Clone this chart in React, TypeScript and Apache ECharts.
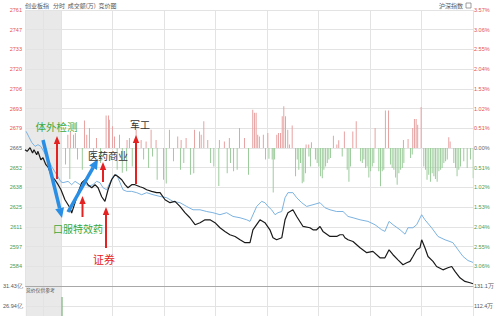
import React, { useEffect, useRef } from "react";
import * as echarts from "echarts";

// previous close of the index
const PREV_CLOSE = 2665.4;

// tick labels (top to bottom)
const priceTickLabels = ["2761", "2747", "2733", "2720", "2706", "2693", "2679", "2665", "2652", "2638", "2625", "2611", "2597", "2584", ""];
const pctTickLabels = ["3.57%", "3.06%", "2.55%", "2.04%", "1.53%", "1.02%", "0.51%", "0.00%", "0.51%", "1.02%", "1.53%", "2.04%", "2.55%", "3.06%", ""];
const volLeftLabels = ["31.43亿", "26.94亿", ""];
const volRightLabels = ["131.1万", "112.4万", ""];

// auction (9:15-9:25) [minute, price]
const auctionIndex = [[0, 2664.2], [0.6, 2663.1], [1.4, 2665.6], [2.1, 2661.9], [2.5, 2664.2], [3.25, 2660.8], [3.6, 2663.1], [4.4, 2657.3], [5, 2658.7], [5.8, 2653.9], [6.5, 2651.8], [7.4, 2645.8], [8.3, 2643.5], [9.2, 2640.1], [10, 2636.6]];
const auctionRef = [[0.3, 2676.9], [1.2, 2672.5], [1.9, 2669.1], [2.8, 2666.5], [3.6, 2667.7], [4.4, 2666.5], [6, 2659.6], [7.4, 2652.7], [8.8, 2647.0], [10, 2642.1]];

// trading session [minute, price]
const indexLine = [[0, 2636.6], [2.3, 2629.7], [5.2, 2624.2], [6.2, 2620.6], [8.2, 2627.7], [9.9, 2634.6], [12.1, 2641.5], [14, 2643.5], [15.7, 2640.1], [17.9, 2638.0], [19.8, 2640.1], [21.6, 2638.0], [23.7, 2631.8], [25.6, 2628.6], [27.4, 2636.6], [29.5, 2643.5], [31.5, 2647.0], [33.2, 2645.8], [35.4, 2643.5], [37.3, 2640.1], [39, 2638.0], [41.2, 2640.1], [43.1, 2640.1], [46, 2638.7], [47.8, 2638.0], [49.9, 2636.6], [52.8, 2635.5], [55.7, 2634.6], [57.7, 2634.6], [60.6, 2629.7], [63.5, 2627.7], [66.4, 2628.6], [69.3, 2625.1], [72.2, 2620.8], [75.1, 2617.3], [78.1, 2612.5], [81, 2613.9], [83.9, 2615.9], [86.8, 2615.9], [89.7, 2613.9], [92.6, 2610.4], [95.5, 2607.9], [98.4, 2605.6], [101.4, 2604.4], [104.3, 2602.1], [107.2, 2600.1], [110.1, 2600.1], [111.8, 2609.0], [115.9, 2615.9], [118.8, 2613.9], [121.7, 2609.0], [123.5, 2603.5], [125.6, 2602.1], [128.6, 2603.5], [130.5, 2615.9], [132.2, 2620.8], [135.1, 2622.8], [137.3, 2618.2], [141, 2611.3], [145, 2610.4], [146.8, 2609.0], [148.9, 2609.0], [150.9, 2611.3], [152.6, 2607.9], [156.7, 2604.4], [160.6, 2604.4], [162.5, 2605.6], [164.3, 2605.6], [165.4, 2603.5], [167.2, 2602.1], [170.1, 2600.9], [174.2, 2596.6], [178.1, 2593.2], [181.7, 2594.1], [185.8, 2589.7], [188.7, 2589.7], [191.1, 2595.2], [193.4, 2591.8], [196.3, 2588.3], [199.2, 2584.9], [201.4, 2586.3], [203.3, 2587.2], [205, 2590.6], [207.2, 2595.2], [209.1, 2596.6], [210.1, 2602.1], [212, 2596.6], [213.8, 2590.6], [216.7, 2587.2], [218.8, 2583.7], [222.5, 2581.4], [225.4, 2582.8], [227.6, 2583.7], [229.5, 2580.3], [232.4, 2575.9], [235.3, 2573.4], [238.3, 2572.5], [240, 2571.8]];

const refLine = [[0, 2642.1], [1.2, 2641.5], [4.1, 2642.4], [6.2, 2640.1], [8.2, 2642.4], [11.1, 2640.1], [12.8, 2642.4], [15.7, 2638.9], [18.6, 2640.1], [20.8, 2642.4], [22.7, 2641.5], [24.5, 2638.0], [26.6, 2636.6], [28.5, 2641.5], [30.3, 2645.8], [32.4, 2647.0], [34.4, 2641.5], [36.1, 2636.6], [38.3, 2635.5], [41.2, 2635.5], [44.1, 2634.6], [47, 2633.2], [49.9, 2634.6], [53.6, 2633.2], [57.7, 2632.0], [61.6, 2631.1], [65.2, 2628.6], [69.3, 2627.7], [73.2, 2625.1], [76.9, 2622.8], [81, 2622.8], [84.9, 2621.6], [88.5, 2620.8], [92.6, 2619.4], [96.5, 2620.8], [100.2, 2618.2], [104.3, 2617.3], [108.2, 2615.9], [110.1, 2614.8], [114, 2625.1], [116.9, 2628.6], [118.8, 2627.7], [120.6, 2625.1], [122.7, 2622.8], [124.7, 2619.4], [126.4, 2620.8], [128.6, 2621.6], [130.5, 2631.1], [132.2, 2634.6], [135.1, 2634.6], [137.3, 2631.1], [140.2, 2627.7], [143.1, 2625.1], [146.8, 2626.3], [150.9, 2627.7], [153.8, 2624.2], [156.7, 2622.8], [160.6, 2621.6], [164.3, 2621.6], [167.2, 2618.2], [170.1, 2617.3], [174.2, 2615.9], [178.8, 2614.8], [182.9, 2612.5], [186.8, 2609.0], [188.7, 2607.9], [191.1, 2614.8], [193.4, 2612.5], [197.5, 2609.0], [200.4, 2606.0], [202.1, 2610.4], [205, 2610.4], [207.2, 2612.5], [210.1, 2619.4], [212, 2615.9], [215.9, 2610.4], [219.6, 2604.4], [223.7, 2602.1], [226.6, 2600.9], [228.3, 2600.1], [231.3, 2595.2], [234.2, 2590.6], [237.1, 2587.8], [240, 2586.5]];

// red / green strength bars [minute, value in % units]
const redBars = [[4.3, 0.34], [5.8, 0.43], [7.6, 0.34], [8.7, 0.39], [14, 0.71], [15.3, 0.34], [16.9, 0.52], [21, 0.26], [26.6, 0.84], [28, 0.84], [28.5, 0.73], [30.3, 0.56], [31.5, 0.3], [34.4, 0.34], [38.8, 0.21], [40.2, 0.26], [44.1, 0.47], [47, 0.21], [49.9, 0.17], [52.8, 0.47], [55.7, 0.21], [63.5, 0.47], [68.3, 0.3], [70.3, 0.21], [73.2, 0.26], [78.1, 0.47], [81, 0.43], [82, 0.34], [83.5, 0.69], [85.8, 0.21], [92.6, 0.21], [95.5, 0.17], [98.4, 0.26], [104.3, 0.52], [107.2, 0.26], [112, 0.99], [113, 0.91], [114, 0.91], [114.9, 0.34], [115.9, 0.3], [118.2, 0.34], [120.8, 0.39], [126, 0.34], [127, 0.39], [128.2, 0.39], [129.2, 0.82], [130.1, 1.08], [131.1, 0.82], [132.4, 0.47], [133.4, 0.09], [135, 0.58], [143.1, 0.09], [144.6, 0.09], [146.2, 0.15], [159, 0.32], [161, 0.09], [162.1, 0.2], [165.4, 0.43], [170.3, 0.43], [172.3, 0.69], [183.3, 0.52], [189.3, 0.97], [191.1, 0.97], [199.8, 0.21], [202.5, 0.23], [205.2, 0.52], [206.2, 0.75], [207.2, 0.75], [208.1, 0.6], [210.1, 1.06], [226.2, 0.28], [227, 0.17]];
const greenBars = [[2.3, -0.43], [4.8, -0.8], [9.3, -0.3], [12.1, -0.56], [18.6, -0.26], [22.7, -0.39], [32.4, -0.56], [35.4, -0.64], [37.9, -0.6], [41.2, -0.48], [47.8, -0.3], [50.7, -0.52], [53, -0.22], [55.7, -0.82], [59.4, -0.82], [61, -0.92], [65.2, -0.34], [69.3, -0.56], [71.2, -0.39], [75.1, -0.69], [77, -0.65], [86.8, -0.39], [88.7, -0.48], [91.6, -0.98], [96.5, -0.65], [98.4, -0.39], [100.2, -0.6], [102.3, -0.56], [108.9, -0.69], [118.8, -0.3], [120.8, -0.28], [122.7, -0.3], [123.3, -1.15], [124.1, -0.3], [136.3, -0.73], [137.3, -0.3], [138.2, -0.56], [139.2, -0.39], [140.2, -0.91], [141.1, -0.87], [142.1, -0.65], [144.1, -0.22], [145, -0.48], [147.9, -0.3], [148.9, -0.39], [149.9, -0.48], [150.9, -0.73], [151.9, -0.78], [152.8, -0.56], [153.8, -0.48], [154.8, -0.39], [155.7, -0.3], [156.7, -0.26], [163.5, -0.22], [166.4, -0.56], [167.4, -0.87], [168.3, -0.48], [174.2, -0.34], [175.2, -0.39], [176.1, -0.3], [177.1, -0.52], [178, -0.48], [179, -0.76], [180, -0.6], [181, -0.48], [181.9, -0.39], [184.8, -0.6], [185.8, -0.99], [186.8, -0.6], [187.7, -0.56], [191.6, -0.43], [192.6, -0.52], [193.6, -0.56], [194.6, -0.76], [195.5, -0.95], [196.5, -0.65], [197.5, -0.56], [198.5, -0.52], [199.4, -0.39], [203.3, -0.26], [204.3, -0.17], [211, -0.48], [212, -0.56], [212.9, -0.82], [213.9, -0.69], [214.9, -0.87], [215.9, -0.65], [216.9, -0.73], [217.8, -0.8], [218.8, -0.87], [219.8, -0.6], [220.8, -0.56], [221.7, -0.52], [222.7, -0.39], [223.7, -0.34], [224.7, -0.3], [228.5, -0.39], [229.5, -0.52], [230.4, -0.73], [231.4, -0.56], [232.4, -0.48], [234.3, -0.34], [236.3, -0.52], [238.2, -0.3], [239.8, -0.78]];

// volume (万) – only the opening bar is visible
const volumeBars = [[0.6, 120.8]];

const toPct = (rows: number[][]) => rows.map(([m, p]) => [m, ((p / PREV_CLOSE) - 1) * 100]);

const RED = "#e5504f";
const GREEN = "#4c9a4c";
const GRID = "#e3e3e3";
const FONT = "Liberation Sans";
const CJK = "Noto Sans CJK SC";

function arrow(x1: number, y1: number, x2: number, y2: number, color: string, w: number, hl: number, hw: number) {
  const dx = x2 - x1, dy = y2 - y1;
  const len = Math.sqrt(dx * dx + dy * dy);
  const ux = dx / len, uy = dy / len;
  const bx = x2 - ux * hl, by = y2 - uy * hl;
  const px = -uy, py = ux;
  return [
    { type: "line", z: 50, shape: { x1, y1, x2: bx, y2: by }, style: { stroke: color, lineWidth: w } },
    {
      type: "polygon", z: 50,
      shape: { points: [[x2, y2], [bx + px * hw, by + py * hw], [bx - px * hw, by - py * hw]] },
      style: { fill: color },
    },
  ];
}

export default function App() {
  const ref = useRef<HTMLDivElement>(null);
  useEffect(() => {
    if (!ref.current) return;
    const chart = echarts.init(ref.current, undefined, { renderer: "svg" });
    const priceLabelIdx = (v: number) => Math.round((3.57 - v) / 0.51);
    const signColor = (v: any) => {
      const n = Number(v);
      if (n > 0.01) return RED;
      if (n < -0.01) return GREEN;
      return "#666";
    };
    const hiddenX = (grid: number, max: number, interval: number, extra: any = {}) => ({
      type: "value", gridIndex: grid, min: 0, max, interval,
      axisLabel: { show: false }, axisTick: { show: false }, axisLine: { show: false },
      splitLine: { show: true, lineStyle: { color: GRID, width: 1 } },
      ...extra,
    });
    const option: any = {
      animation: false,
      grid: [
        { left: 25, top: 10, width: 36, height: 276, show: true, backgroundColor: "#e9e9e9", borderWidth: 0 },
        { left: 61, top: 10, width: 412, height: 276, show: false },
        { left: 25, top: 286, width: 36, height: 40, show: true, backgroundColor: "#e9e9e9", borderWidth: 0 },
        { left: 61, top: 286, width: 412, height: 40, show: false },
      ],
      xAxis: [
        hiddenX(0, 10, 5),
        hiddenX(1, 240, 30),
        hiddenX(2, 10, 5, { position: "top", axisLine: { show: true, lineStyle: { color: "#a8a8a8", width: 1 } } }),
        hiddenX(3, 240, 30, { position: "top", axisLine: { show: true, lineStyle: { color: "#a8a8a8", width: 1 } } }),
      ],
      yAxis: [
        {
          type: "value", gridIndex: 0, min: -3.57, max: 3.57, interval: 0.51, position: "left",
          axisLine: { show: false }, axisTick: { show: false },
          splitLine: { show: true, lineStyle: { color: GRID } },
          axisLabel: {
            fontSize: 5.5, fontFamily: FONT, margin: 3,
            formatter: (v: number) => priceTickLabels[priceLabelIdx(v)] ?? "",
            color: signColor,
          },
        },
        {
          type: "value", gridIndex: 1, min: -3.57, max: 3.57, interval: 0.51, position: "right",
          axisLine: { show: false }, axisTick: { show: false },
          splitLine: { show: true, lineStyle: { color: GRID } },
          axisLabel: {
            fontSize: 5.5, fontFamily: FONT, margin: 1,
            formatter: (v: number) => pctTickLabels[priceLabelIdx(v)] ?? "",
            color: signColor,
          },
        },
        {
          type: "value", gridIndex: 2, min: 22.45, max: 31.43, interval: 4.49, position: "left",
          axisLine: { show: false }, axisTick: { show: false },
          splitLine: { show: true, lineStyle: { color: GRID } },
          axisLabel: {
            fontSize: 5.5, fontFamily: FONT, margin: 3, color: "#555",
            formatter: (v: number) => volLeftLabels[Math.round((31.43 - v) / 4.49)] ?? "",
          },
        },
        {
          type: "value", gridIndex: 3, min: 93.65, max: 131.11, interval: 18.73, position: "right",
          axisLine: { show: false }, axisTick: { show: false },
          splitLine: { show: true, lineStyle: { color: GRID } },
          axisLabel: {
            fontSize: 5.5, fontFamily: FONT, margin: 1, color: "#555",
            formatter: (v: number) => volRightLabels[Math.round((131.11 - v) / 18.73)] ?? "",
          },
        },
      ],
      series: [
        { type: "bar", xAxisIndex: 1, yAxisIndex: 1, data: redBars, barWidth: 1, itemStyle: { color: "#e8a2a2" }, z: 1 },
        { type: "bar", xAxisIndex: 1, yAxisIndex: 1, data: greenBars, barWidth: 1, itemStyle: { color: "#9ccc9c" }, z: 1 },
        { type: "bar", xAxisIndex: 3, yAxisIndex: 3, data: volumeBars, barWidth: 1, itemStyle: { color: "#6aa86a" }, z: 1 },
        { type: "line", xAxisIndex: 0, yAxisIndex: 0, data: toPct(auctionRef), showSymbol: false, lineStyle: { color: "#7cb3e0", width: 1 }, z: 3 },
        { type: "line", xAxisIndex: 0, yAxisIndex: 0, data: toPct(auctionIndex), showSymbol: false, lineStyle: { color: "#1a1a1a", width: 1.2 }, z: 4 },
        { type: "line", xAxisIndex: 1, yAxisIndex: 1, data: toPct(refLine), showSymbol: false, lineStyle: { color: "#7cb3e0", width: 1 }, z: 3 },
        { type: "line", xAxisIndex: 1, yAxisIndex: 1, data: toPct(indexLine), showSymbol: false, lineStyle: { color: "#1a1a1a", width: 1.2 }, z: 4 },
      ],
      graphic: [
        { type: "text", left: 25, top: 2, z: 50, style: { text: "创业板指   分时  成交额(万)  竞价图", fontSize: 6, fontFamily: CJK, fill: "#555" } },
        { type: "text", x: 463, y: 2, z: 50, style: { text: "沪深指数", fontSize: 6, fontFamily: CJK, fill: "#555", align: "right" } },
        { type: "rect", z: 50, shape: { x: 466, y: 3, width: 5, height: 5 }, style: { fill: "#fff", stroke: "#777", lineWidth: 0.7 } },
        { type: "text", left: 26, top: 287, z: 50, style: { text: "竞价仅供参考", fontSize: 4.8, fontFamily: CJK, fill: "#555" } },
        ...arrow(43, 140, 62, 218, "#2a8fe4", 3.5, 10, 4.5),
        ...arrow(68, 212, 98, 159, "#2a8fe4", 3.5, 10, 4.5),
        ...arrow(57, 179, 57, 136, "#e52222", 2, 8, 3.2),
        ...arrow(82.5, 217, 82.5, 196, "#e52222", 2, 8, 3.2),
        ...arrow(103, 182, 103, 162, "#e52222", 2, 8, 3.2),
        ...arrow(136, 184, 136, 135, "#e52222", 2, 8, 3.2),
        ...arrow(106, 248, 106, 207, "#e52222", 2, 8, 3.2),
        { type: "text", x: 56.5, y: 126, z: 60, style: { text: "体外检测", fontSize: 10.5, fontFamily: CJK, fill: "#3aaa3a", align: "center", verticalAlign: "middle" } },
        { type: "text", x: 108, y: 155, z: 60, style: { text: "医药商业", fontSize: 10, fontFamily: CJK, fill: "#333", align: "center", verticalAlign: "middle" } },
        { type: "text", x: 140, y: 124.5, z: 60, style: { text: "军工", fontSize: 10, fontFamily: CJK, fill: "#333", align: "center", verticalAlign: "middle" } },
        { type: "text", x: 78, y: 228, z: 60, style: { text: "口服特效药", fontSize: 10, fontFamily: CJK, fill: "#3aaa3a", align: "center", verticalAlign: "middle" } },
        { type: "text", x: 104, y: 259, z: 60, style: { text: "证券", fontSize: 11, fontFamily: CJK, fill: "#e52222", align: "center", verticalAlign: "middle" } },
      ],
    };
    chart.setOption(option);
    return () => chart.dispose();
  }, []);
  return (
    <div style={{ position: "fixed", left: 0, top: 0, width: 499, height: 316, overflow: "hidden", background: "#fff" }}>
      <div ref={ref} style={{ width: 499, height: 340 }} />
    </div>
  );
}
